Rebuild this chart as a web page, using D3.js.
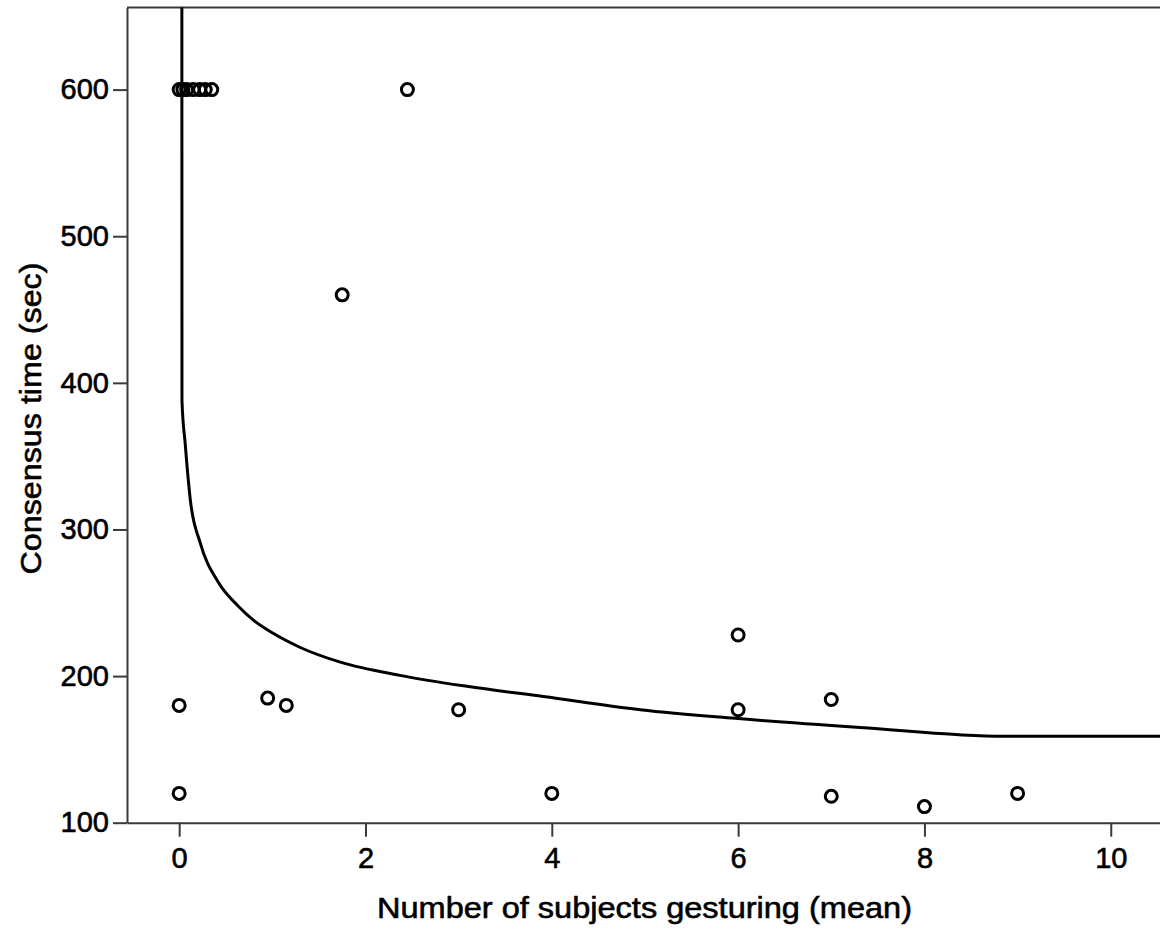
<!DOCTYPE html>
<html>
<head>
<meta charset="utf-8">
<script src="https://cdn.jsdelivr.net/npm/d3@7"></script>
<style>
  body { margin: 0; background: #fff; overflow: hidden; }
  text { font-family: "Liberation Sans", Arial, sans-serif; fill: #000; stroke: #000; stroke-width: 0.6px; }
</style>
</head>
<body>
<div id="chart"></div>
<script>
// points: x = subjects gesturing (mean), y = consensus time (sec)
var gestures = [0, 0.04, 0.08, 0.15, 0.22, 0.28, 0.35, 2.45, 1.75, 0, 0, 0.95, 1.15, 3, 4, 6, 6, 7, 7, 8, 9];
var times    = [600, 600, 600, 600, 600, 600, 600, 600, 460, 180, 120, 185, 180, 177, 120, 228, 177, 184, 118, 111, 120];

// fit line
var fitX = [0.029, 0.03, 0.064, 0.12, 0.225, 0.42, 0.63, 0.8, 1.0, 1.3, 1.73, 2.37, 3.09, 3.91, 4.95, 6.0, 7.31, 8.86, 10.55];
var fitY = [656, 388, 359, 320, 291, 264, 248, 238, 229.5, 219.5, 209.5, 200.5, 193, 186, 177, 171, 165, 159, 159];

var xTicks = [0, 2, 4, 6, 8, 10];
var yTicks = [100, 200, 300, 400, 500, 600];

var width = 1160, height = 933;

var svg = d3.select('#chart').append('svg')
    .attr('width', width)
    .attr('height', height);

var x = d3.scaleLinear().domain([-0.56, 10.55]).range([127, 1162]);
var y = d3.scaleLinear().domain([100, 656]).range([822.7, 7.5]);

var axisColor = '#3a3a3a';

// frame (top + left), right side runs off the page
svg.append('line')
    .attr('x1', x.range()[0]).attr('x2', x.range()[1])
    .attr('y1', y.range()[1]).attr('y2', y.range()[1])
    .attr('stroke', axisColor).attr('stroke-width', 2);

// x axis
var xAxis = svg.append('g')
    .attr('transform', 'translate(0,' + y.range()[0] + ')')
    .call(d3.axisBottom(x).tickValues(xTicks).tickSize(14).tickPadding(11).tickSizeOuter(0));

// y axis
var yAxis = svg.append('g')
    .attr('transform', 'translate(' + x.range()[0] + ',0)')
    .call(d3.axisLeft(y).tickValues(yTicks).tickSize(14).tickPadding(4).tickSizeOuter(0));

[xAxis, yAxis].forEach(function(a) {
    a.select('.domain').attr('stroke', axisColor).attr('stroke-width', 2);
    a.selectAll('.tick line').attr('stroke', axisColor).attr('stroke-width', 2);
    a.selectAll('.tick text')
        .style('font-family', '"Liberation Sans", Arial, sans-serif')
        .style('font-size', '29px')
        .attr('fill', '#000');
});

// fit curve
var fit = fitX.map(function(d, i) { return [d, fitY[i]]; });
var line = d3.line()
    .x(function(d) { return x(d[0]); })
    .y(function(d) { return y(d[1]); })
    .curve(d3.curveMonotoneX);

svg.append('path')
    .datum(fit)
    .attr('d', line)
    .attr('fill', 'none')
    .attr('stroke', '#000')
    .attr('stroke-width', 3);

// points
svg.append('g').selectAll('circle')
    .data(gestures)
    .enter()
    .append('circle')
    .attr('cx', function(d) { return x(d); })
    .attr('cy', function(d, i) { return y(times[i]); })
    .attr('r', 6)
    .attr('fill', 'none')
    .attr('stroke', '#000')
    .attr('stroke-width', 3);

// axis titles
svg.append('text')
    .attr('x', (377 + 912) / 2)
    .attr('y', 918)
    .attr('text-anchor', 'middle')
    .attr('textLength', 535)
    .attr('lengthAdjust', 'spacingAndGlyphs')
    .style('font-size', '30px')
    .text('Number of subjects gesturing (mean)');

svg.append('text')
    .attr('transform', 'translate(41,' + (262 + 575) / 2 + ') rotate(-90)')
    .attr('text-anchor', 'middle')
    .attr('textLength', 312)
    .attr('lengthAdjust', 'spacingAndGlyphs')
    .style('font-size', '30px')
    .text('Consensus time (sec)');
</script>
</body>
</html>
